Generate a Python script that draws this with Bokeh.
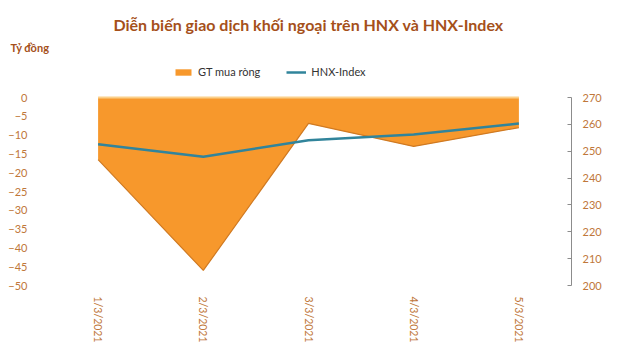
import math
from bokeh.plotting import figure
from bokeh.models import (Range1d, LinearAxis, FixedTicker, Legend, LegendItem, Title)
from bokeh.embed import file_html
from bokeh.resources import INLINE

categories = ["1/3/2021", "2/3/2021", "3/3/2021", "4/3/2021", "5/3/2021"]
net_buy = [-16.5, -46.0, -6.9, -13.0, -8.0]          # GT mua ròng (tỷ đồng)
hnx_index = [252.6, 247.9, 254.1, 256.2, 260.3]      # HNX-Index
left_ticks = [0, -5, -10, -15, -20, -25, -30, -35, -40, -45, -50]
right_ticks = [200, 210, 220, 230, 240, 250, 260, 270]

xs = list(range(1, len(categories) + 1))

FONT = "Lato"
TICK_COLOR = "#C0773A"
TITLE_COLOR = "#A5501A"

# frame: top at 55px, axis area from 97px to 285px
FRAME_TOP, AXIS_TOP, AXIS_BOTTOM = 55, 97, 285
axis_px = AXIS_BOTTOM - AXIS_TOP
extra = AXIS_TOP - FRAME_TOP
l_lo, l_hi = -50, 0
r_lo, r_hi = 200, 270
l_top = l_hi + extra * (l_hi - l_lo) / axis_px
r_top = r_hi + extra * (r_hi - r_lo) / axis_px

p = figure(width=630, height=359, output_backend="svg", toolbar_location=None,
           x_range=Range1d(0.5, len(categories) + 0.5), y_range=Range1d(l_lo, l_top),
           min_border_left=45, min_border_right=59, min_border_top=FRAME_TOP,
           min_border_bottom=359 - AXIS_BOTTOM)
p.outline_line_color = None
p.xgrid.visible = False
p.ygrid.visible = False
p.background_fill_color = "white"
p.border_fill_color = "white"

p.extra_y_ranges = {"idx": Range1d(r_lo, r_top)}

area = p.varea(x=xs, y1=[0] * len(xs), y2=net_buy, fill_color="#F7982C")
edge = p.line(x=xs, y=net_buy, line_color="#D07A22", line_width=1.2)
top = p.line(x=xs, y=[0] * len(xs), line_color="#FBD08A", line_width=2)
ln = p.line(x=xs, y=hnx_index, y_range_name="idx", line_color="#31849B", line_width=2.5)

# x axis
xa = p.xaxis[0]
xa.ticker = FixedTicker(ticks=xs)
xa.major_label_overrides = {x: c for x, c in zip(xs, categories)}
xa.major_label_orientation = -math.pi / 2
xa.axis_line_color = None
xa.major_tick_line_color = None
xa.minor_tick_line_color = None
xa.major_label_standoff = 5
xa.major_label_text_color = TICK_COLOR
xa.major_label_text_font = FONT
xa.major_label_text_font_size = "10.5px"

# left axis
ya = p.yaxis[0]
ya.ticker = FixedTicker(ticks=left_ticks)
ya.axis_line_color = None
ya.major_tick_line_color = None
ya.minor_tick_line_color = None
ya.major_label_standoff = 12
ya.major_label_text_color = TICK_COLOR
ya.major_label_text_font = FONT
ya.major_label_text_font_size = "11px"

# right axis
ra = LinearAxis(y_range_name="idx", ticker=FixedTicker(ticks=right_ticks),
                bounds=(r_lo, r_hi))
ra.axis_line_color = "#8C8C8C"
ra.major_tick_line_color = "#8C8C8C"
ra.major_tick_in = 4
ra.major_tick_out = 0
ra.minor_tick_line_color = None
ra.major_label_standoff = 11
ra.major_label_text_color = TICK_COLOR
ra.major_label_text_font = FONT
ra.major_label_text_font_size = "11px"
p.add_layout(ra, "right")

# titles in the top panel
unit_title = Title(text="Tỷ đồng", align="left", offset=-35, text_font=FONT,
                   text_font_style="bold", text_font_size="11px",
                   text_color=TITLE_COLOR, standoff=4)
main_title = Title(text="Diễn biến giao dịch khối ngoại trên HNX và HNX-Index",
                   align="center", offset=-46, text_font=FONT, text_font_style="bold",
                   text_font_size="16px", text_color=TITLE_COLOR, standoff=6)
p.add_layout(unit_title, "above")
p.add_layout(main_title, "above")

legend = Legend(items=[LegendItem(label="GT mua ròng", renderers=[area]),
                       LegendItem(label="HNX-Index", renderers=[ln])],
                orientation="horizontal", location=(128, 207),
                label_text_font=FONT, label_text_font_size="11px",
                label_text_color="#333333", glyph_width=20, glyph_height=8,
                spacing=26, border_line_color=None, background_fill_alpha=0,
                padding=0, margin=0)
p.add_layout(legend, "center")

open("out.html", "w").write(file_html(p, INLINE))
